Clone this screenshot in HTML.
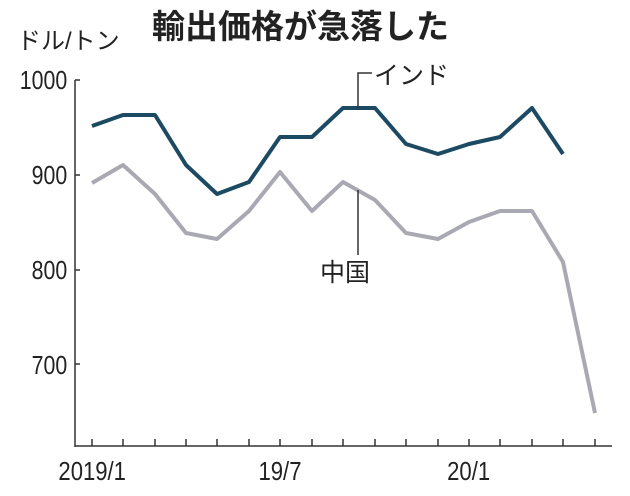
<!DOCTYPE html>
<html><head><meta charset="utf-8"><style>
html,body{margin:0;padding:0;background:#fff;}
svg{display:block;}
text{font-family:"Liberation Sans","Noto Sans CJK JP",sans-serif;fill:#222;}
</style></head><body>
<svg width="630" height="496" viewBox="0 0 630 496">
<text x="17" y="49" font-size="24">ドル/トン</text>
<text x="152" y="38" font-size="33" font-weight="bold">輸出価格が急落した</text>
<g font-size="26" text-anchor="end" transform="scale(0.82,1)">
<text x="82" y="89">1000</text>
<text x="82" y="184">900</text>
<text x="82" y="279">800</text>
<text x="82" y="374">700</text>
</g>
<g stroke="#333" stroke-width="1.5">
<line x1="75" y1="80" x2="75" y2="447"/>
<line x1="75" y1="446" x2="612" y2="446"/>
<line x1="75" y1="80" x2="80" y2="80"/>
<line x1="75" y1="175" x2="80" y2="175"/>
<line x1="75" y1="270" x2="80" y2="270"/>
<line x1="75" y1="364" x2="80" y2="364"/>
<line x1="92" y1="439" x2="92" y2="446"/><line x1="123" y1="439" x2="123" y2="446"/><line x1="155" y1="439" x2="155" y2="446"/><line x1="186" y1="439" x2="186" y2="446"/><line x1="217" y1="439" x2="217" y2="446"/><line x1="249" y1="439" x2="249" y2="446"/><line x1="280" y1="439" x2="280" y2="446"/><line x1="312" y1="439" x2="312" y2="446"/><line x1="343" y1="439" x2="343" y2="446"/><line x1="375" y1="439" x2="375" y2="446"/><line x1="406" y1="439" x2="406" y2="446"/><line x1="438" y1="439" x2="438" y2="446"/><line x1="469" y1="439" x2="469" y2="446"/><line x1="500" y1="439" x2="500" y2="446"/><line x1="532" y1="439" x2="532" y2="446"/><line x1="563" y1="439" x2="563" y2="446"/><line x1="595" y1="439" x2="595" y2="446"/>
</g>
<g font-size="26" text-anchor="middle">
<text x="92" y="480" transform="translate(14,0) scale(0.85,1)">2019/1</text>
<text x="280" y="480" transform="translate(42,0) scale(0.85,1)">19/7</text>
<text x="469" y="480" transform="translate(70,0) scale(0.85,1)">20/1</text>
</g>
<polyline fill="none" stroke="#a9a9b3" stroke-width="4" stroke-linejoin="round" points="92,183 123,165 155,194 186,233 217,239 249,211 280,172 312,211 343,182 375,200 406,233 438,239 469,222 500,211 532,211 563,262 595,413"/>
<polyline fill="none" stroke="#1d4a63" stroke-width="4" stroke-linejoin="round" points="92,126 123,115 155,115 186,165 217,194 249,182 280,137 312,137 343,108 375,108 406,144 438,154 469,144 500,137 532,108 563,154"/>
<g stroke="#333" stroke-width="1.5" fill="none">
<polyline points="372,73 358,73 358,108"/>
<line x1="358" y1="190" x2="358" y2="255"/>
</g>
<text x="374" y="84" font-size="25">インド</text>
<text x="320" y="281" font-size="25">中国</text>
</svg>
</body></html>
